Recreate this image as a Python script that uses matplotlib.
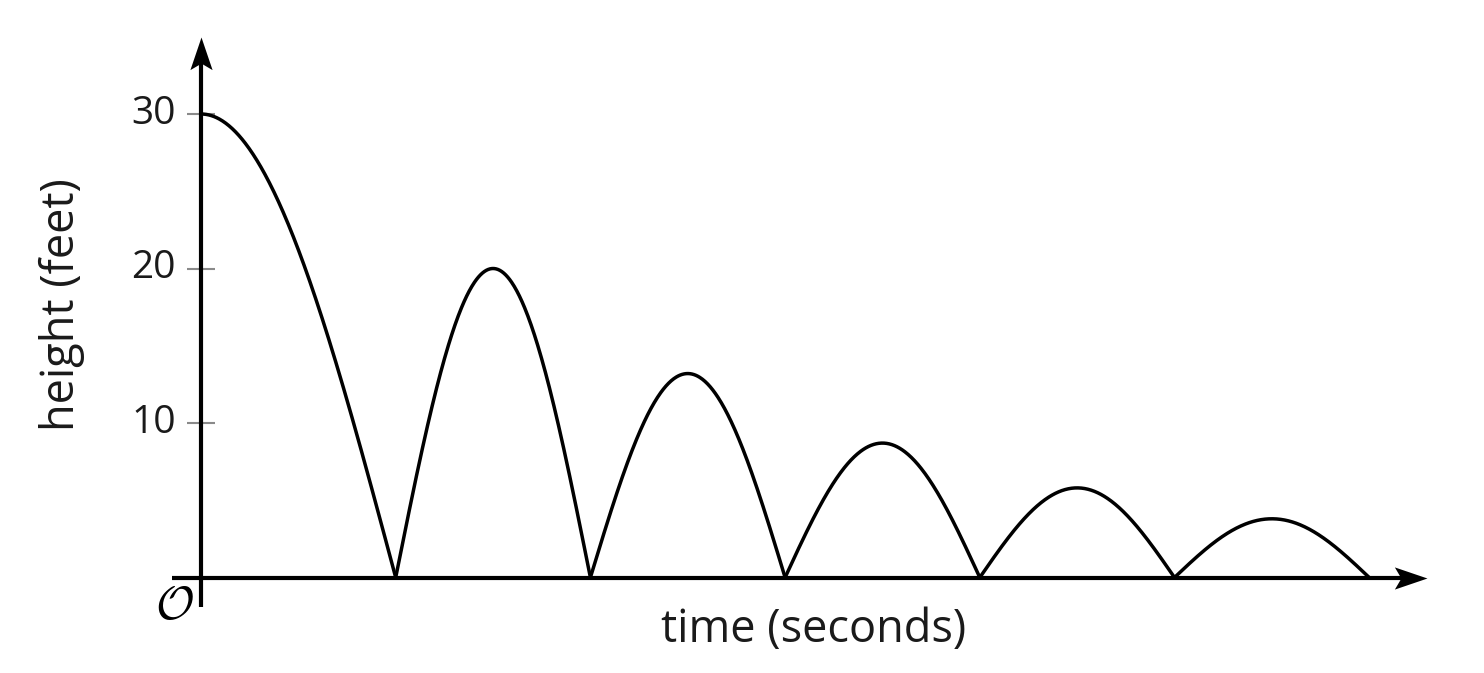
import numpy as np
import matplotlib
matplotlib.use("Agg")
import matplotlib.pyplot as plt
from matplotlib.path import Path

plt.rcParams['font.family'] = ['Open Sans', 'DejaVu Sans']
plt.rcParams['mathtext.fontset'] = 'cm'

# datos: cada arco va de un rebote al siguiente
arc_start = [-1, 1, 2, 3, 4, 5]
arc_end = [1, 2, 3, 4, 5, 6]
peak_height = [30, 20, 13.2, 8.7, 5.8, 3.8]
y_ticks = [10, 20, 30]

fig = plt.figure(figsize=(14.84, 6.73), dpi=100)
ax = fig.add_axes([0, 0, 1, 1])
ax.axis("off")

# escala: 194.7 px por segundo, 15.45 px por pie, origen en (201, 577.5)
px_x, px_y = 194.7, 15.45
ax.set_xlim(-201 / px_x, (1484 - 201) / px_x)
ax.set_ylim(-(673 - 577.5) / px_y, 577.5 / px_y)

# curva del rebote
for a, b, h in zip(arc_start, arc_end, peak_height):
    t = np.linspace(max(a, 0), b, 300)
    ax.plot(t, h * np.sin(np.pi * (t - a) / (b - a)), color="black", lw=2.5,
            solid_capstyle="butt", zorder=3)

# ejes con flechas
x_tip = (1427 - 201) / px_x
y_tip = (577.5 - 37) / px_y
ax.plot([-29 / px_x, x_tip - 20 / px_x], [0, 0], color="black", lw=3, solid_capstyle="butt", zorder=4)
ax.plot([0, 0], [-29 / px_y, y_tip - 20 / px_y], color="black", lw=3, solid_capstyle="butt", zorder=4)

head_up = Path([(0, 0), (-0.34, -1), (0, -0.8), (0.34, -1), (0, 0)],
               [Path.MOVETO, Path.LINETO, Path.LINETO, Path.LINETO, Path.CLOSEPOLY])
head_right = Path([(0, 0), (-1, 0.34), (-0.8, 0), (-1, -0.34), (0, 0)],
                  [Path.MOVETO, Path.LINETO, Path.LINETO, Path.LINETO, Path.CLOSEPOLY])
ax.plot([0], [y_tip], marker=head_up, markersize=47, color="black", mew=0, zorder=5)
ax.plot([x_tip], [0], marker=head_right, markersize=47, color="black", mew=0, zorder=5)

# marcas y etiquetas del eje y
ax.hlines(y_ticks, -14 / px_x, 14 / px_x, color="#8a8a8a", lw=1.5, zorder=2)
for v in y_ticks:
    ax.annotate(str(v), (0, v), xytext=(-18, 0), textcoords="offset points",
                ha="right", va="center", fontsize=28, color="#1a1a1a")

ax.annotate(r"$\mathcal{O}$", (0, 0), xytext=(-19, -20.5), textcoords="offset points",
            ha="center", va="center", fontsize=34, color="black")

fig.text(0.548, 0.064, "time (seconds)", ha="center", va="center", fontsize=32.5, color="#1a1a1a")
fig.text(0.0415, 0.547, "height (feet)", ha="center", va="center", rotation=90,
         fontsize=32.5, color="#1a1a1a")

fig.savefig("out.png", dpi=100, facecolor="white")
